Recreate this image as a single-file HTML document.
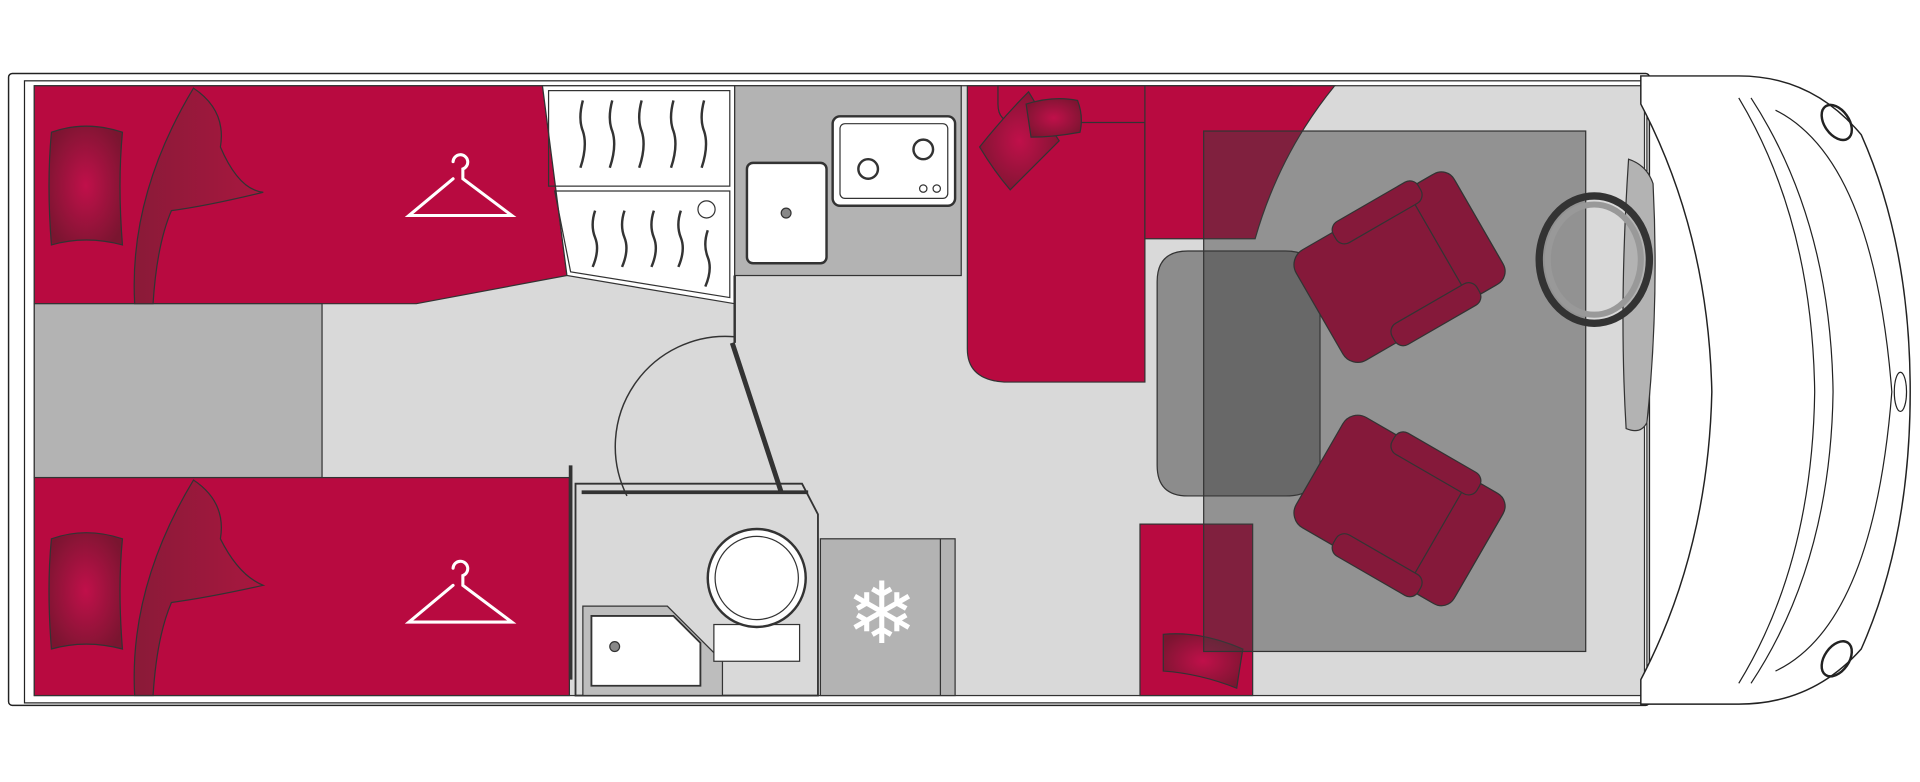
<!DOCTYPE html>
<html><head><meta charset="utf-8"><style>html,body{margin:0;padding:0;background:#fff}svg{display:block}</style></head><body>
<svg width="1920" height="782" viewBox="0 0 1568 638.6" preserveAspectRatio="none" xmlns="http://www.w3.org/2000/svg">
<defs>
<radialGradient id="pil" cx="0.5" cy="0.5" r="0.6"><stop offset="0" stop-color="#c0104a"/><stop offset="1" stop-color="#7a1530"/></radialGradient>
<linearGradient id="fold" x1="0" y1="0" x2="1" y2="0"><stop offset="0" stop-color="#8a1a38"/><stop offset="1" stop-color="#a8173f"/></linearGradient>
</defs>
<rect width="1568" height="638.6" fill="#fff"/>
<rect x="7" y="60" width="1340" height="516" fill="#fff" stroke="#222" stroke-width="1.2" rx="3"/>
<rect x="20" y="66" width="1325" height="508" fill="none" stroke="#222" stroke-width="1"/>
<rect x="28" y="70" width="1315" height="498" fill="#d9d9d9" stroke="#333" stroke-width="1"/>
<polygon points="28,70 443,70 463,225 340,248 28,248" fill="#b80a40" stroke="#333"/>
<rect x="28" y="248" width="235" height="142" fill="#b3b3b3" stroke="#333"/>
<rect x="28" y="390" width="437" height="178" fill="#b80a40" stroke="#333"/>
<g stroke="#333" stroke-width="1">
<path d="M42,108 Q70,98 100,108 Q96,150 100,200 Q70,192 42,200 Q38,150 42,108Z" fill="url(#pil)"/>
<path d="M42,440 Q70,430 100,440 Q96,480 100,530 Q70,522 42,530 Q38,480 42,440Z" fill="url(#pil)"/>
<path d="M110,248 Q105,160 158,72 Q185,90 180,120 Q195,155 215,157 Q170,168 140,172 Q128,200 125,248Z" fill="url(#fold)"/>
<path d="M110,568 Q105,480 158,392 Q185,410 180,440 Q195,470 215,478 Q170,488 140,492 Q128,520 125,568Z" fill="url(#fold)"/>
</g>
<g fill="none" stroke="#fff" stroke-width="2.5" stroke-linecap="round">
<path d="M370,132 a6,6 0 1 1 8,6 v8 l40,30 h-84 l36,-30"/>
<path d="M370,464 a6,6 0 1 1 8,6 v8 l40,30 h-84 l36,-30"/>
</g>
<polygon points="443,70 600,70 600,248 463,225" fill="#fff" stroke="#333"/>
<rect x="448" y="74" width="148" height="78" fill="none" stroke="#333"/>
<polygon points="453,156 596,156 596,243 466,222" fill="none" stroke="#333"/>
<g fill="none" stroke="#333" stroke-width="2">
<path d="M476,82 q-4,15 0,25 q4,12 -2,30"/><path d="M500,82 q-4,15 0,25 q4,12 -2,30"/><path d="M524,82 q-4,15 0,25 q4,12 -2,30"/><path d="M550,82 q-4,15 0,25 q4,12 -2,30"/><path d="M575,82 q-4,15 0,25 q4,12 -2,30"/>
<path d="M486,172 q-4,12 0,22 q4,10 -2,24"/><path d="M510,172 q-4,12 0,22 q4,10 -2,24"/><path d="M534,172 q-4,12 0,22 q4,10 -2,24"/><path d="M556,172 q-4,12 0,22 q4,10 -2,24"/><path d="M578,188 q-4,12 0,22 q4,10 -2,24"/>
</g>
<circle cx="577" cy="171" r="7" fill="none" stroke="#333"/>
<rect x="600" y="70" width="185" height="155" fill="#b3b3b3" stroke="#333"/>
<rect x="610" y="133" width="65" height="82" rx="5" fill="#fff" stroke="#333" stroke-width="2"/>
<circle cx="642" cy="174" r="4" fill="#888" stroke="#333"/>
<rect x="680" y="95" width="100" height="73" rx="6" fill="#fff" stroke="#333" stroke-width="2"/>
<rect x="686" y="101" width="88" height="61" rx="4" fill="none" stroke="#333"/>
<circle cx="709" cy="138" r="8" fill="none" stroke="#333" stroke-width="2"/><circle cx="754" cy="122" r="8" fill="none" stroke="#333" stroke-width="2"/>
<circle cx="754" cy="154" r="3" fill="none" stroke="#333"/><circle cx="765" cy="154" r="3" fill="none" stroke="#333"/>
<path d="M820,70 H935 V312 H820 Q790,310 790,285 V70Z" fill="#b80a40" stroke="#333"/>
<path d="M815,70 H1055 V90 Q1050,100 1040,100 H830 Q815,100 815,85Z" fill="#b80a40" stroke="#333"/>
<path d="M935,70 H1090 Q1045,125 1025,195 H935Z" fill="#b80a40" stroke="#333"/>
<g stroke="#333">
<path d="M800,120 Q820,95 840,75 Q855,100 865,115 Q845,135 825,155 Q812,140 800,120Z" fill="url(#pil)"/>
<path d="M838,85 Q860,78 880,82 Q885,95 882,108 Q860,112 842,112Z" fill="url(#pil)"/>
</g>
<rect x="931" y="428" width="92" height="140" fill="#b80a40" stroke="#333"/>
<path d="M950,518 Q980,515 1015,530 Q1012,548 1010,562 Q980,550 950,548Z" fill="url(#pil)" stroke="#333"/>
<path d="M945,230 Q945,205 970,205 H1050 Q1078,205 1078,235 V380 Q1078,405 1050,405 H970 Q945,405 945,380Z" fill="#8c8c8c" stroke="#333"/>
<rect x="983" y="107" width="312" height="425" fill="rgba(60,60,60,0.45)" stroke="#333"/>
<g transform="rotate(-30 1140 220)"><rect x="1068" y="168" width="150" height="104" rx="14" fill="#85193a" stroke="#333"/><rect x="1180" y="168" width="38" height="104" rx="12" fill="#85193a" stroke="#333"/><rect x="1110" y="162" width="80" height="20" rx="8" fill="#85193a" stroke="#333"/><rect x="1110" y="258" width="80" height="20" rx="8" fill="#85193a" stroke="#333"/></g>
<g transform="rotate(30 1140 415)"><rect x="1068" y="363" width="150" height="104" rx="14" fill="#85193a" stroke="#333"/><rect x="1180" y="363" width="38" height="104" rx="12" fill="#85193a" stroke="#333"/><rect x="1110" y="357" width="80" height="20" rx="8" fill="#85193a" stroke="#333"/><rect x="1110" y="453" width="80" height="20" rx="8" fill="#85193a" stroke="#333"/></g>
<path d="M470,395 H655 L668,420 V568 H470Z" fill="#d9d9d9" stroke="#333" stroke-width="1.5"/>
<line x1="466" y1="380" x2="466" y2="555" stroke="#333" stroke-width="3"/>
<path d="M476,495 H545 L590,540 V568 H476Z" fill="#bdbdbd" stroke="#333"/>
<path d="M483,503 H550 L572,525 V560 H483Z" fill="#fff" stroke="#333" stroke-width="1.5"/>
<circle cx="502" cy="528" r="4" fill="#888" stroke="#333"/>
<rect x="583" y="510" width="70" height="30" fill="#fff" stroke="#333"/>
<circle cx="618" cy="472" r="40" fill="#fff" stroke="#333" stroke-width="2"/><circle cx="618" cy="472" r="34" fill="none" stroke="#333"/>
<path d="M512,405 A90,90 0 0 1 600,275" fill="none" stroke="#333" stroke-width="1.2"/>
<line x1="598" y1="280" x2="638" y2="402" stroke="#333" stroke-width="4"/>
<line x1="475" y1="402" x2="660" y2="402" stroke="#333" stroke-width="3"/>
<line x1="600" y1="225" x2="600" y2="280" stroke="#333" stroke-width="2"/>
<rect x="670" y="440" width="110" height="128" fill="#b3b3b3" stroke="#333"/>
<line x1="768" y1="440" x2="768" y2="568" stroke="#333"/>
<text x="720" y="525" font-family="DejaVu Sans, sans-serif" font-size="70" fill="#fff" text-anchor="middle">❄</text>
<path d="M1340,62 H1420 Q1480,62 1520,110 Q1560,200 1560,320 Q1560,440 1520,530 Q1480,575 1420,575 H1340 V555 Q1395,450 1398,320 Q1395,190 1340,85Z" fill="#fff" stroke="#222" stroke-width="1.2"/>
<path d="M1420,80 Q1480,180 1482,320 Q1480,460 1420,558" fill="none" stroke="#222"/>
<path d="M1430,80 Q1495,180 1497,320 Q1495,460 1430,558" fill="none" stroke="#222"/>
<path d="M1450,90 Q1530,130 1545,320 Q1530,510 1450,548" fill="none" stroke="#222"/>
<ellipse cx="1500" cy="100" rx="10" ry="16" transform="rotate(-35 1500 100)" fill="none" stroke="#222" stroke-width="2"/>
<ellipse cx="1500" cy="538" rx="10" ry="16" transform="rotate(35 1500 538)" fill="none" stroke="#222" stroke-width="2"/>
<ellipse cx="1552" cy="320" rx="5" ry="16" fill="none" stroke="#222"/>
<path d="M1330,130 Q1345,135 1350,150 Q1355,250 1345,345 Q1340,355 1328,350 Q1322,250 1330,130Z" fill="#b3b3b3" stroke="#333"/>
<ellipse cx="1302" cy="212" rx="45" ry="52" fill="none" stroke="#333" stroke-width="6"/>
<ellipse cx="1302" cy="212" rx="38" ry="45" fill="none" stroke="#999" stroke-width="5"/>
</svg>
</body></html>
